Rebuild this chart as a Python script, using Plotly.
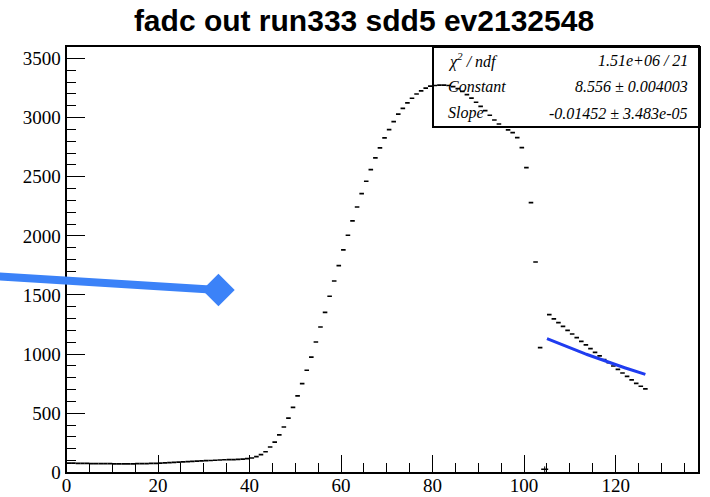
import numpy as np
import plotly.graph_objects as go

# ---- histogram contents (1 unit wide bins starting at 0) ----
baseline = [78, 77, 76, 75, 75, 74, 74, 73, 73, 73,
            72, 72, 72, 72, 72, 73, 73, 74, 75, 76,
            78, 80, 82, 84, 86, 88, 90, 92, 94, 96,
            98, 100, 102, 104, 106, 107, 108, 110, 112, 115]
rise = [121, 132, 149, 174, 214, 256, 316, 383, 459, 550, 646, 750, 863,
        975, 1102, 1229, 1353, 1489, 1618, 1748, 1881]
top = [2005, 2126, 2244, 2357, 2462, 2560, 2659, 2744, 2828, 2899, 2966,
       3029, 3079, 3124, 3164, 3200, 3226, 3249, 3266]
fall = [3272, 3275, 3275, 3272, 3262, 3245, 3222, 3195, 3165, 3130, 3095,
        3060, 3020, 2980, 2946, 2920, 2896, 2873, 2831, 2746, 2577, 2281,
        1779, 1054]
gap_bin = 104
gap_value = 25
gap_error = 25
tail = [1333, 1297, 1266, 1235, 1201, 1170, 1139, 1108, 1077, 1046, 1015,
        984, 953, 927, 899, 871, 840, 812, 781, 753, 728, 705]
counts = baseline + rise + top + fall + [gap_value] + tail

# ---- exponential fit result ----
fit_const = 8.556
fit_slope = -0.01452
fit_lo, fit_hi = 105.0, 126.5
stats_rows = [("<i>χ<sup>2</sup> / ndf</i>", "<i>1.51e+06 / 21</i>"),
              ("<i>Constant</i>", "<i>8.556 ± 0.004003</i>"),
              ("<i>Slope</i>", "<i>-0.01452 ± 3.483e-05</i>")]

# ---- pointer line with diamond head ----
pointer_x = [-15.0, 33.2]
pointer_y = [1657, 1542]

title = "fadc out run333 sdd5 ev2132548"
x_range = [0, 138]
y_range = [0, 3600]

W, H = 710, 497
x_dom = [66.5 / W, 698 / W]
y_dom = [(H - 472.3) / H, (H - 46.7) / H]

# one horizontal dash per bin, across the bin width
seg_x, seg_y = [], []
for i, v in enumerate(counts):
    if i == gap_bin:
        continue
    seg_x += [i, i + 1, None]
    seg_y += [v, v, None]

fig = go.Figure()
fig.add_trace(go.Scatter(x=seg_x, y=seg_y, mode="lines",
                         line=dict(color="black", width=1.7),
                         hoverinfo="skip", showlegend=False))
fig.add_trace(go.Scatter(x=[gap_bin + 0.5], y=[counts[gap_bin]], mode="markers",
                         marker=dict(symbol="line-ew", size=5,
                                     line=dict(color="black", width=1.5)),
                         error_y=dict(type="data", array=[gap_error],
                                      color="black", thickness=1, width=0),
                         showlegend=False))

fx = np.linspace(fit_lo, fit_hi, 60)
fy = np.exp(fit_const + fit_slope * fx)
fig.add_trace(go.Scatter(x=fx, y=fy, mode="lines",
                         line=dict(color="#1f3cf0", width=3),
                         showlegend=False))

# overlay axes covering the whole page, same scale as the frame axes
def page_range(rng, dom):
    per = (rng[1] - rng[0]) / (dom[1] - dom[0])
    return [rng[0] - dom[0] * per, rng[1] + (1 - dom[1]) * per]

fig.add_trace(go.Scatter(x=pointer_x, y=pointer_y, mode="lines",
                         line=dict(color="#3b82f8", width=8),
                         xaxis="x2", yaxis="y2", showlegend=False))
fig.add_trace(go.Scatter(x=pointer_x[-1:], y=pointer_y[-1:], mode="markers",
                         marker=dict(symbol="diamond", size=25, opacity=1,
                                     color="#3b82f8", line=dict(width=0)),
                         xaxis="x2", yaxis="y2", showlegend=False))

axis_font = dict(family="Liberation Serif", size=19, color="black")
common = dict(showline=True, mirror=True, linecolor="black", linewidth=2,
              ticks="inside", tickcolor="black", tickwidth=1,
              showgrid=False, zeroline=False, tickfont=axis_font,
              automargin=False)

fig.update_layout(
    template="none",
    width=W, height=H,
    margin=dict(l=0, r=0, t=0, b=0, pad=0),
    paper_bgcolor="white", plot_bgcolor="rgba(0,0,0,0)",
    title=dict(text="<b>" + title + "</b>", x=364 / W, y=1 - 20 / H,
               xanchor="center", yanchor="middle",
               font=dict(family="Liberation Sans", size=30, color="black")),
    xaxis=dict(range=x_range, domain=x_dom, dtick=20, tick0=0, ticklen=17,
               ticklabelstandoff=-5,
               minor=dict(ticks="inside", ticklen=9, dtick=5,
                          tickcolor="black", tickwidth=1),
               anchor="y", **common),
    yaxis=dict(range=y_range, domain=y_dom, dtick=500, tick0=0, ticklen=18,
               minor=dict(ticks="inside", ticklen=9, dtick=100,
                          tickcolor="black", tickwidth=1),
               anchor="x", **common),
    xaxis2=dict(range=page_range(x_range, x_dom), domain=[0, 1],
                anchor="y2", visible=False, automargin=False),
    yaxis2=dict(range=page_range(y_range, y_dom), domain=[0, 1],
                anchor="x2", visible=False, automargin=False),
)

# statistics box
fig.add_shape(type="rect", xref="paper", yref="paper",
              x0=433 / W, x1=700 / W, y0=1 - 127 / H, y1=1 - 47 / H,
              line=dict(color="black", width=2), fillcolor="white",
              layer="below")
stat_font = dict(family="Liberation Serif", size=16, color="black")
for k, (name, val) in enumerate(stats_rows):
    yc = 1 - (60 + 26.5 * k) / H
    fig.add_annotation(x=446 / W, y=yc, xref="paper", yref="paper",
                       text=name, showarrow=False, xanchor="left",
                       yanchor="middle", font=stat_font)
    fig.add_annotation(x=690 / W, y=yc, xref="paper", yref="paper",
                       text=val, showarrow=False, xanchor="right",
                       yanchor="middle", font=stat_font)

fig.write_html("out.html")
